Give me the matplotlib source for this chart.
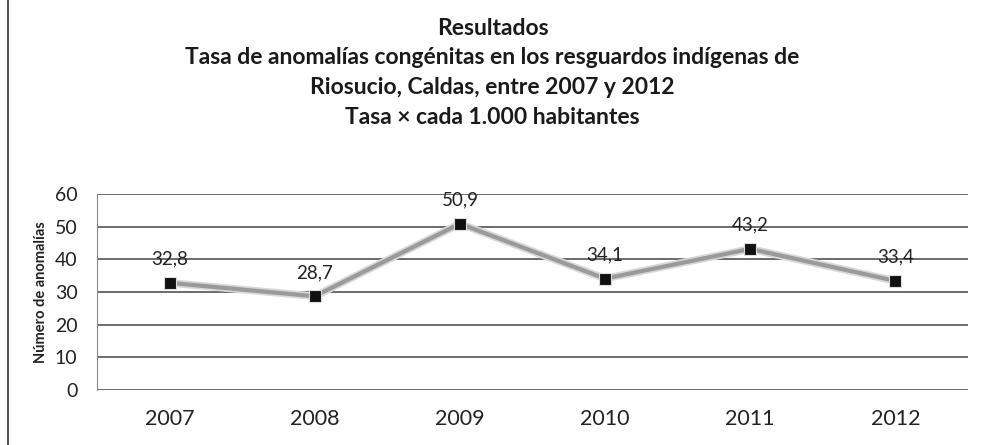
import matplotlib.pyplot as plt
from matplotlib.lines import Line2D

years = ['2007', '2008', '2009', '2010', '2011', '2012']
tasas = [32.8, 28.7, 50.9, 34.1, 43.2, 33.4]
etiquetas = ['32,8', '28,7', '50,9', '34,1', '43,2', '33,4']

plt.rcParams['font.family'] = ['Lato', 'DejaVu Sans']

fig = plt.figure(figsize=(9.85, 4.45), dpi=100)
ax = fig.add_axes([97 / 985, 55 / 445, 871 / 985, 196 / 445])

x = list(range(len(years)))
# gray line with a lighter halo, black square markers
ax.plot(x, tasas, color='#d8d8d8', lw=5.5, zorder=3, solid_joinstyle='miter')
ax.plot(x, tasas, color='#9a9a9a', lw=3, zorder=4, solid_joinstyle='miter')
ax.plot(x, tasas, ls='none', marker='s', ms=9, mfc='#111111', mec='#dddddd',
        mew=0.8, zorder=5)

for xi, v, lab in zip(x, tasas, etiquetas):
    ax.annotate(lab, (xi, v), xytext=(0, 11), textcoords='offset points',
                ha='center', va='bottom', fontsize=13.5, color='#222222')

ax.set_xlim(-0.5, len(years) - 0.5)
ax.set_ylim(0, 60)
ax.set_yticks(range(0, 61, 10))
ax.set_xticks(x)
ax.set_xticklabels(years, fontsize=15.5, color='#222222')
ax.tick_params(axis='y', labelsize=14, colors='#222222', length=0, pad=14)
ax.tick_params(axis='x', length=0, pad=14)
ax.grid(axis='y', color='#606060', lw=1.3)
ax.set_axisbelow(True)
for s in ['top', 'right', 'bottom']:
    ax.spines[s].set_visible(False)
ax.spines['left'].set_color('#8a8a8a')
ax.set_ylabel('Número de anomalías', fontsize=10.5, fontweight='bold',
              color='#222222', labelpad=5)

titulo = ('Resultados\n'
          'Tasa de anomalías congénitas en los resguardos indígenas de\n'
          'Riosucio, Caldas, entre 2007 y 2012\n'
          'Tasa × cada 1.000 habitantes')
fig.text(0.5, 1 - 18 / 445, titulo, ha='center', va='top', fontsize=16.5,
         fontweight='bold', color='#1a1a1a', linespacing=1.5)

# left border of the frame
fig.add_artist(Line2D([8 / 985, 8 / 985], [0, 1], color='#333333', lw=1.2))

fig.savefig('out.png', dpi=100, facecolor='white')
